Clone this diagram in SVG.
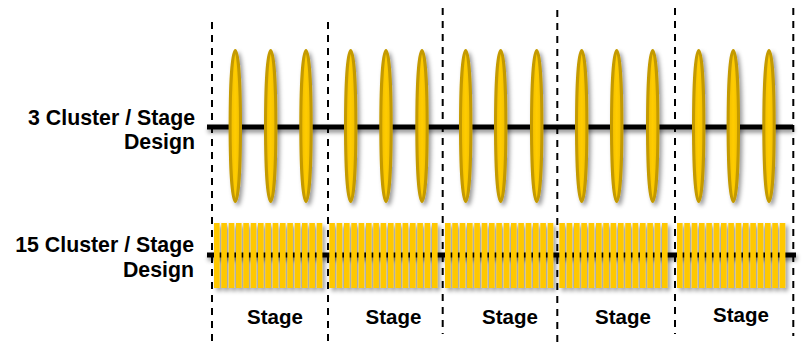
<svg xmlns="http://www.w3.org/2000/svg" width="804" height="344" viewBox="0 0 804 344">
<defs>
<filter id="sh" x="-20%" y="-20%" width="150%" height="160%">
<feDropShadow dx="2.5" dy="3" stdDeviation="2" flood-color="#000" flood-opacity="0.4"/>
</filter>
<filter id="lsh" filterUnits="userSpaceOnUse" x="190" y="100" width="620" height="180">
<feDropShadow dx="1" dy="3" stdDeviation="2" flood-color="#000" flood-opacity="0.45"/>
</filter>
<linearGradient id="eg" x1="0" x2="1" y1="0" y2="0">
<stop offset="0" stop-color="#F0BE00"/>
<stop offset="0.5" stop-color="#FFCC00"/>
<stop offset="1" stop-color="#F0BE00"/>
</linearGradient>
</defs>
<style>
.dash{stroke:#000;stroke-width:2;stroke-dasharray:7 6;fill:none}
.axis{stroke:#000;stroke-width:5;fill:none}
.el{fill:url(#eg);stroke:#C49A00;stroke-width:3}
.bar{fill:#FFC800}
.lbl{font-family:"Liberation Sans",Arial,sans-serif;font-weight:bold;font-size:21.3px;fill:#000}
.stg{font-family:"Liberation Sans",Arial,sans-serif;font-weight:bold;font-size:20.5px;fill:#000;text-anchor:middle}
</style>
<rect width="804" height="344" fill="#fff"/>

<g id="connectors">
<line class="axis" x1="207" y1="127" x2="793" y2="127" filter="url(#lsh)"/>
<line class="axis" x1="207" y1="255" x2="796" y2="255" filter="url(#lsh)"/>
</g>

<g id="labels">
<text class="lbl" x="195" y="125" text-anchor="end">3 Cluster / Stage</text>
<text class="lbl" x="195" y="149" text-anchor="end">Design</text>
<text class="lbl" x="194" y="252" text-anchor="end">15 Cluster / Stage</text>
<text class="lbl" x="194" y="277" text-anchor="end">Design</text>
</g>

<g id="clusters-3" filter="url(#sh)">
<ellipse class="el" cx="235.3" cy="126" rx="5.2" ry="75.5"/>
<ellipse class="el" cx="270.7" cy="126" rx="5.2" ry="75.5"/>
<ellipse class="el" cx="306" cy="126" rx="5.2" ry="75.5"/>
<ellipse class="el" cx="350.7" cy="126" rx="5.2" ry="75.5"/>
<ellipse class="el" cx="386" cy="126" rx="5.2" ry="75.5"/>
<ellipse class="el" cx="422" cy="126" rx="5.2" ry="75.5"/>
<ellipse class="el" cx="465.7" cy="126" rx="5.2" ry="75.5"/>
<ellipse class="el" cx="500.7" cy="126" rx="5.2" ry="75.5"/>
<ellipse class="el" cx="536.7" cy="126" rx="5.2" ry="75.5"/>
<ellipse class="el" cx="581.7" cy="126" rx="5.2" ry="75.5"/>
<ellipse class="el" cx="616.7" cy="126" rx="5.2" ry="75.5"/>
<ellipse class="el" cx="652.7" cy="126" rx="5.2" ry="75.5"/>
<ellipse class="el" cx="698.7" cy="126" rx="5.2" ry="75.5"/>
<ellipse class="el" cx="733.3" cy="126" rx="5.2" ry="75.5"/>
<ellipse class="el" cx="769" cy="126" rx="5.2" ry="75.5"/>
</g>

<g id="clusters-15" filter="url(#sh)">
<g id="stage1-bars">
<rect class="bar" x="214" y="223" width="5.6" height="65"/><rect class="bar" x="221.3" y="223" width="5.6" height="65"/><rect class="bar" x="228.7" y="223" width="5.6" height="65"/><rect class="bar" x="236" y="223" width="5.6" height="65"/><rect class="bar" x="243.3" y="223" width="5.6" height="65"/><rect class="bar" x="250.7" y="223" width="5.6" height="65"/><rect class="bar" x="258" y="223" width="5.6" height="65"/><rect class="bar" x="265.3" y="223" width="5.6" height="65"/><rect class="bar" x="272.7" y="223" width="5.6" height="65"/><rect class="bar" x="280" y="223" width="5.6" height="65"/><rect class="bar" x="287.3" y="223" width="5.6" height="65"/><rect class="bar" x="294.7" y="223" width="5.6" height="65"/><rect class="bar" x="302" y="223" width="5.6" height="65"/><rect class="bar" x="309.3" y="223" width="5.6" height="65"/><rect class="bar" x="316.7" y="223" width="5.6" height="65"/>
</g>
<g id="stage2-bars">
<rect class="bar" x="329.3" y="223" width="5.6" height="65"/><rect class="bar" x="336.6" y="223" width="5.6" height="65"/><rect class="bar" x="344" y="223" width="5.6" height="65"/><rect class="bar" x="351.3" y="223" width="5.6" height="65"/><rect class="bar" x="358.6" y="223" width="5.6" height="65"/><rect class="bar" x="366" y="223" width="5.6" height="65"/><rect class="bar" x="373.3" y="223" width="5.6" height="65"/><rect class="bar" x="380.6" y="223" width="5.6" height="65"/><rect class="bar" x="388" y="223" width="5.6" height="65"/><rect class="bar" x="395.3" y="223" width="5.6" height="65"/><rect class="bar" x="402.6" y="223" width="5.6" height="65"/><rect class="bar" x="410" y="223" width="5.6" height="65"/><rect class="bar" x="417.3" y="223" width="5.6" height="65"/><rect class="bar" x="424.6" y="223" width="5.6" height="65"/><rect class="bar" x="432" y="223" width="5.6" height="65"/>
</g>
<g id="stage3-bars">
<rect class="bar" x="445" y="223" width="5.6" height="65"/><rect class="bar" x="452.3" y="223" width="5.6" height="65"/><rect class="bar" x="459.7" y="223" width="5.6" height="65"/><rect class="bar" x="467" y="223" width="5.6" height="65"/><rect class="bar" x="474.3" y="223" width="5.6" height="65"/><rect class="bar" x="481.7" y="223" width="5.6" height="65"/><rect class="bar" x="489" y="223" width="5.6" height="65"/><rect class="bar" x="496.3" y="223" width="5.6" height="65"/><rect class="bar" x="503.7" y="223" width="5.6" height="65"/><rect class="bar" x="511" y="223" width="5.6" height="65"/><rect class="bar" x="518.3" y="223" width="5.6" height="65"/><rect class="bar" x="525.7" y="223" width="5.6" height="65"/><rect class="bar" x="533" y="223" width="5.6" height="65"/><rect class="bar" x="540.3" y="223" width="5.6" height="65"/><rect class="bar" x="547.7" y="223" width="5.6" height="65"/>
</g>
<g id="stage4-bars">
<rect class="bar" x="559.3" y="223" width="5.6" height="65"/><rect class="bar" x="566.6" y="223" width="5.6" height="65"/><rect class="bar" x="574" y="223" width="5.6" height="65"/><rect class="bar" x="581.3" y="223" width="5.6" height="65"/><rect class="bar" x="588.6" y="223" width="5.6" height="65"/><rect class="bar" x="596" y="223" width="5.6" height="65"/><rect class="bar" x="603.3" y="223" width="5.6" height="65"/><rect class="bar" x="610.6" y="223" width="5.6" height="65"/><rect class="bar" x="618" y="223" width="5.6" height="65"/><rect class="bar" x="625.3" y="223" width="5.6" height="65"/><rect class="bar" x="632.6" y="223" width="5.6" height="65"/><rect class="bar" x="640" y="223" width="5.6" height="65"/><rect class="bar" x="647.3" y="223" width="5.6" height="65"/><rect class="bar" x="654.6" y="223" width="5.6" height="65"/><rect class="bar" x="662" y="223" width="5.6" height="65"/>
</g>
<g id="stage5-bars">
<rect class="bar" x="677" y="223" width="5.6" height="65"/><rect class="bar" x="684.3" y="223" width="5.6" height="65"/><rect class="bar" x="691.7" y="223" width="5.6" height="65"/><rect class="bar" x="699" y="223" width="5.6" height="65"/><rect class="bar" x="706.3" y="223" width="5.6" height="65"/><rect class="bar" x="713.7" y="223" width="5.6" height="65"/><rect class="bar" x="721" y="223" width="5.6" height="65"/><rect class="bar" x="728.3" y="223" width="5.6" height="65"/><rect class="bar" x="735.7" y="223" width="5.6" height="65"/><rect class="bar" x="743" y="223" width="5.6" height="65"/><rect class="bar" x="750.3" y="223" width="5.6" height="65"/><rect class="bar" x="757.7" y="223" width="5.6" height="65"/><rect class="bar" x="765" y="223" width="5.6" height="65"/><rect class="bar" x="772.3" y="223" width="5.6" height="65"/><rect class="bar" x="779.7" y="223" width="5.6" height="65"/>
</g>
</g>

<g id="stage-dividers">
<line class="dash" x1="212" y1="22" x2="212" y2="344"/>
<line class="dash" x1="328" y1="22" x2="328" y2="344"/>
<line class="dash" x1="442.7" y1="8" x2="442.7" y2="334"/>
<line class="dash" x1="557.3" y1="10" x2="557.3" y2="344"/>
<line class="dash" x1="675" y1="8" x2="675" y2="334"/>
<line class="dash" x1="793.3" y1="8" x2="793.3" y2="336"/>
</g>

<g id="stage-labels">
<text class="stg" x="275" y="324">Stage</text>
<text class="stg" x="393.5" y="324">Stage</text>
<text class="stg" x="510" y="324">Stage</text>
<text class="stg" x="623" y="324">Stage</text>
<text class="stg" x="741" y="322">Stage</text>
</g>
</svg>
